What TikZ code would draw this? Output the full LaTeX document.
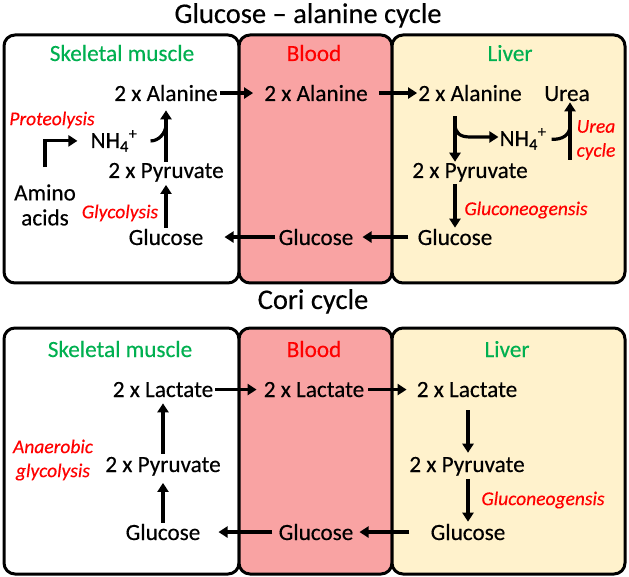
\documentclass[tikz,border=0pt]{standalone}
\usepackage{fontspec}
\setmainfont{Carlito}[FakeBold=0.35]
\usetikzlibrary{arrows.meta}
\definecolor{bloodc}{HTML}{F9A3A3}
\definecolor{liverc}{HTML}{FFF2CC}
\definecolor{grn}{HTML}{00B050}
\definecolor{rd}{HTML}{FF0000}
\begin{document}
\begin{tikzpicture}[x=1pt,y=-1pt,
  box/.style={draw=black,line width=3pt,rounded corners=11pt},
  ttl/.style={font=\fontsize{28.5}{31}\selectfont,anchor=base,inner sep=1pt},
  txt/.style={font=\fontsize{23.2}{25}\selectfont,anchor=base,inner sep=1pt,align=center},
  glbl/.style={txt,text=grn},
  rlbl/.style={txt,text=rd},
  red/.style={font=\fontsize{19.5}{24}\selectfont\itshape,text=rd,align=center,inner sep=1pt},
  ln/.style={line width=3.2pt},
  arr/.style={line width=3.2pt,-{Triangle[length=9pt,width=11pt]}}]
\useasboundingbox (0,0) rectangle (629,577);
% ---------- top panel ----------
\node[ttl] (t1) at (308,23) {Glucose – alanine cycle};
\draw[box,fill=white] (4,35) rectangle (239,283);
\draw[box,fill=bloodc] (239,35) rectangle (392,283);
\draw[box,fill=liverc] (392,35) rectangle (625,283);
\node[glbl] (sm1) at (122,61) {Skeletal muscle};
\node[rlbl] (bl1) at (314,61) {Blood};
\node[glbl] (lv1) at (510,61) {Liver};

\node[txt] (mAla) at (166,101) {2 x Alanine};
\node[txt] (mNH) at (114,148) {NH\textsubscript{4}\textsuperscript{+}};
\node[txt] (mPyr) at (166,178) {2 x Pyruvate};
\node[txt] (mGlu) at (166,245) {Glucose};
\node[txt,anchor=center] (amino) at (45,205) {Amino\\acids};
\node[red] (prot) at (52,120) {Proteolysis};
\node[red] (glyc) at (120,213) {Glycolysis};

\node[txt] (bAla) at (316,101) {2 x Alanine};
\node[txt] (bGlu) at (316,245) {Glucose};

\node[txt] (lAla) at (470,101) {2 x Alanine};
\node[txt] (urea) at (567,101) {Urea};
\node[txt] (lNH) at (523,146) {NH\textsubscript{4}\textsuperscript{+}};
\node[txt] (lPyr) at (470,178) {2 x Pyruvate};
\node[txt] (lGlu) at (455,245) {Glucose};
\node[red] (ucyc) at (596,140) {Urea\\cycle};
\node[red] (gng1) at (526,210) {Gluconeogensis};

\coordinate (mJ) at (166,124);
\coordinate (lJ) at (455,124);
\coordinate (lK) at (470,137);
\coordinate (uJ) at (570,126);
\coordinate (uS) at (570,160);

\draw[arr,shorten <=1pt,shorten >=10pt] (mAla.east) -- (bAla.west);
\draw[arr,shorten <=10pt] (bAla.east) -- (lAla.west);
\draw[arr,shorten >=8pt] (mPyr.north) -- (mAla.south);
\draw[ln,shorten <=12pt] (mNH.east) .. controls (158,141) and (166,134) .. (mJ);
\draw[arr,shorten >=2pt] (mGlu.north) -- (mPyr.south);
\draw[arr,shorten <=16pt,shorten >=12pt] (amino.north) |- (mNH.west);
\draw[arr,shorten <=2pt,shorten >=20pt] (bGlu.west) -- (mGlu.east);
\draw[arr,shorten <=8pt,shorten >=8pt] (lGlu.west) -- (bGlu.east);
\draw[arr,shorten <=14pt] (lAla.south -| lGlu) -- (lPyr.north -| lGlu);
\draw[arr] (lJ) .. controls (455,133) and (460,137) .. (lK) -- (lK -| lNH.west);
\draw[ln,shorten <=4pt] (lNH.east) .. controls (562,140) and (570,135) .. (uJ);
\draw[arr] (uS) -- (uS |- urea.south);
\draw[arr,shorten <=1pt] (lPyr.south -| lGlu) -- (lGlu.north);

% ---------- bottom panel ----------
\node[ttl] (t2) at (313,309) {Cori cycle};
\draw[box,fill=white] (4,328) rectangle (239,574);
\draw[box,fill=bloodc] (239,328) rectangle (392,574);
\draw[box,fill=liverc] (392,328) rectangle (625,574);
\node[glbl] (sm2) at (120,357) {Skeletal muscle};
\node[rlbl] (bl2) at (314,357) {Blood};
\node[glbl] (lv2) at (507,357) {Liver};

\node[txt] (mLac) at (163,397) {2 x Lactate};
\node[txt] (mPyr2) at (163,472) {2 x Pyruvate};
\node[txt] (mGlu2) at (163,540) {Glucose};
\node[red] (anae) at (53,460) {Anaerobic\\glycolysis};

\node[txt] (bLac) at (314,397) {2 x Lactate};
\node[txt] (bGlu2) at (316,540) {Glucose};

\node[txt] (lLac) at (467,397) {2 x Lactate};
\node[txt] (lPyr2) at (467,472) {2 x Pyruvate};
\node[txt] (lGlu2) at (468,540) {Glucose};
\node[red] (gng2) at (543,500) {Gluconeogensis};

\draw[arr,shorten <=1pt,shorten >=6pt] (mLac.east) -- (bLac.west);
\draw[arr,shorten <=3pt,shorten >=9pt] (bLac.east) -- (lLac.west);
\draw[arr,shorten <=2pt,shorten >=5pt] (mPyr2.north) -- (mLac.south);
\draw[arr,shorten >=6pt] (mGlu2.north) -- (mPyr2.south);
\draw[arr,shorten <=5pt,shorten >=17pt] (bGlu2.west) -- (mGlu2.east);
\draw[arr,shorten <=20pt,shorten >=5pt] (lGlu2.west) -- (bGlu2.east);
\draw[arr,shorten <=12pt,shorten >=3pt] (lLac.south -| lGlu2) -- (lPyr2.north -| lGlu2);
\draw[arr,shorten <=2pt,shorten >=1pt] (lPyr2.south -| lGlu2) -- (lGlu2.north);
\end{tikzpicture}
\end{document}
